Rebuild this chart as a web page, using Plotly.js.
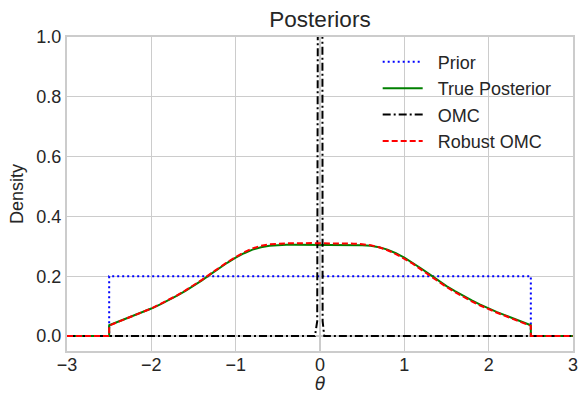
<!DOCTYPE html>
<html><head><meta charset="utf-8">
<script src="https://cdn.plot.ly/plotly-3.0.1.min.js"></script>
<style>html,body{margin:0;padding:0;background:#fff}</style>
</head><body>
<div id="chart" style="width:578px;height:395px"></div>
<script>
// Data
const priorX = [-3, -2.5, -2.5, 2.5, 2.5, 3];
const priorY = [0, 0, 0.2, 0.2, 0, 0];

const thetaGrid = [-2.5,-2.4,-2.3,-2.2,-2.1,-2.0,-1.9,-1.8,-1.7,-1.6,-1.5,-1.4,-1.3,-1.2,-1.1,-1.0,-0.9,-0.8,-0.7,-0.6,-0.5,-0.4,-0.3,-0.2,-0.1,0,0.1,0.2,0.3,0.4,0.5,0.6,0.7,0.8,0.9,1.0,1.1,1.2,1.3,1.4,1.5,1.6,1.7,1.8,1.9,2.0,2.1,2.2,2.3,2.4,2.5];
const truePost = [0.036,0.047,0.058,0.069,0.080,0.092,0.105,0.119,0.134,0.150,0.167,0.186,0.206,0.226,0.245,0.262,0.277,0.289,0.297,0.302,0.304,0.305,0.305,0.305,0.305,0.305,0.305,0.305,0.305,0.305,0.304,0.302,0.297,0.289,0.277,0.262,0.245,0.226,0.206,0.186,0.167,0.150,0.134,0.119,0.105,0.092,0.080,0.069,0.058,0.047,0.036];
const robustOMC = [0.035,0.047,0.058,0.070,0.081,0.092,0.106,0.120,0.135,0.152,0.169,0.188,0.208,0.228,0.247,0.264,0.280,0.293,0.302,0.307,0.309,0.310,0.310,0.311,0.311,0.310,0.310,0.310,0.309,0.309,0.307,0.304,0.297,0.287,0.274,0.259,0.242,0.222,0.202,0.182,0.164,0.147,0.131,0.116,0.102,0.089,0.078,0.067,0.056,0.045,0.034];

const omcX = [-3, -0.06, -0.033, -0.025, 0, 0.027, 0.031, 0.05, 3];
const omcY = [0, 0, 0.05, 1.2, 12, 1.2, 0.05, 0, 0];

const seriesNames = ["Prior", "True Posterior", "OMC", "Robust OMC"];
const xTicks = [-3, -2, -1, 0, 1, 2, 3];
const yTicks = [0, 0.2, 0.4, 0.6, 0.8, 1.0];
const xLabel = 'θ';

// add support edges (zero outside [-2.5, 2.5])
function withSupport(xs, ys) {
  return {
    x: [-3, xs[0]].concat(xs, [xs[xs.length - 1], 3]),
    y: [0, 0].concat(ys, [0, 0])
  };
}
const tp = withSupport(thetaGrid, truePost);
const ro = withSupport(thetaGrid, robustOMC);

const txt = '#262626';
const fontFam = '"Liberation Sans", Arial, sans-serif';
const pad = '\u00a0\u00a0';

const traces = [
  {x: priorX, y: priorY, name: pad + seriesNames[0], mode: 'lines',
   line: {color: '#0000ff', width: 2, dash: '2px,3px'}},
  {x: tp.x, y: tp.y, name: pad + seriesNames[1], mode: 'lines',
   line: {color: '#008000', width: 2}},
  {x: omcX, y: omcY, name: pad + seriesNames[2], mode: 'lines',
   line: {color: '#000000', width: 2, dash: '8px,3px,2px,3px'}},
  {x: ro.x, y: ro.y, name: pad + seriesNames[3], mode: 'lines',
   line: {color: '#ff0000', width: 2, dash: '6px,3px'}}
];

const layout = {
  width: 578, height: 395,
  margin: {l: 67, r: 5, t: 37, b: 44, pad: 0},
  paper_bgcolor: '#ffffff', plot_bgcolor: '#ffffff',
  font: {family: fontFam, size: 18, color: txt},
  title: {text: 'Posteriors', font: {size: 22.5, color: txt, family: fontFam},
          x: 0.5, xref: 'paper', xanchor: 'center', y: 1 - 19/395, yref: 'container', yanchor: 'middle'},
  xaxis: {range: [-3, 3], tickvals: xTicks, ticktext: xTicks.map(v => v < 0 ? '\u2212' + Math.abs(v) : String(v)),
          showgrid: true, gridcolor: '#cccccc', gridwidth: 1.2, zeroline: false,
          showline: true, mirror: true, linecolor: '#cccccc', linewidth: 2,
          ticks: '', ticklabelstandoff: -4, ticklabeloverflow: 'allow', tickfont: {size: 18, color: txt}},
  yaxis: {range: [-0.05, 1.0], tickvals: yTicks, ticktext: yTicks.map(v => v.toFixed(1)),
          showgrid: true, gridcolor: '#cccccc', gridwidth: 1.2, zeroline: false,
          showline: true, mirror: true, linecolor: '#cccccc', linewidth: 2,
          ticks: '', ticklabelstandoff: 0, ticklabeloverflow: 'allow', tickfont: {size: 18, color: txt},
          title: {text: 'Density', font: {size: 18, color: txt}, standoff: 8}},
  annotations: [{text: '<i>' + xLabel + '</i>', xref: 'paper', yref: 'paper', x: 0.5, y: -0.1401,
                 xanchor: 'center', yanchor: 'bottom', showarrow: false, borderpad: 0,
                 font: {size: 17, color: txt, family: '"DejaVu Sans", sans-serif'}}],
  showlegend: true,
  legend: {x: 0.614, xanchor: 'left', y: 0.979, yanchor: 'top', bgcolor: 'rgba(0,0,0,0)',
           borderwidth: 0, font: {size: 18, color: txt}, itemwidth: 40}
};

Plotly.newPlot('chart', traces, layout, {displayModeBar: false, staticPlot: true});
</script>
</body></html>
